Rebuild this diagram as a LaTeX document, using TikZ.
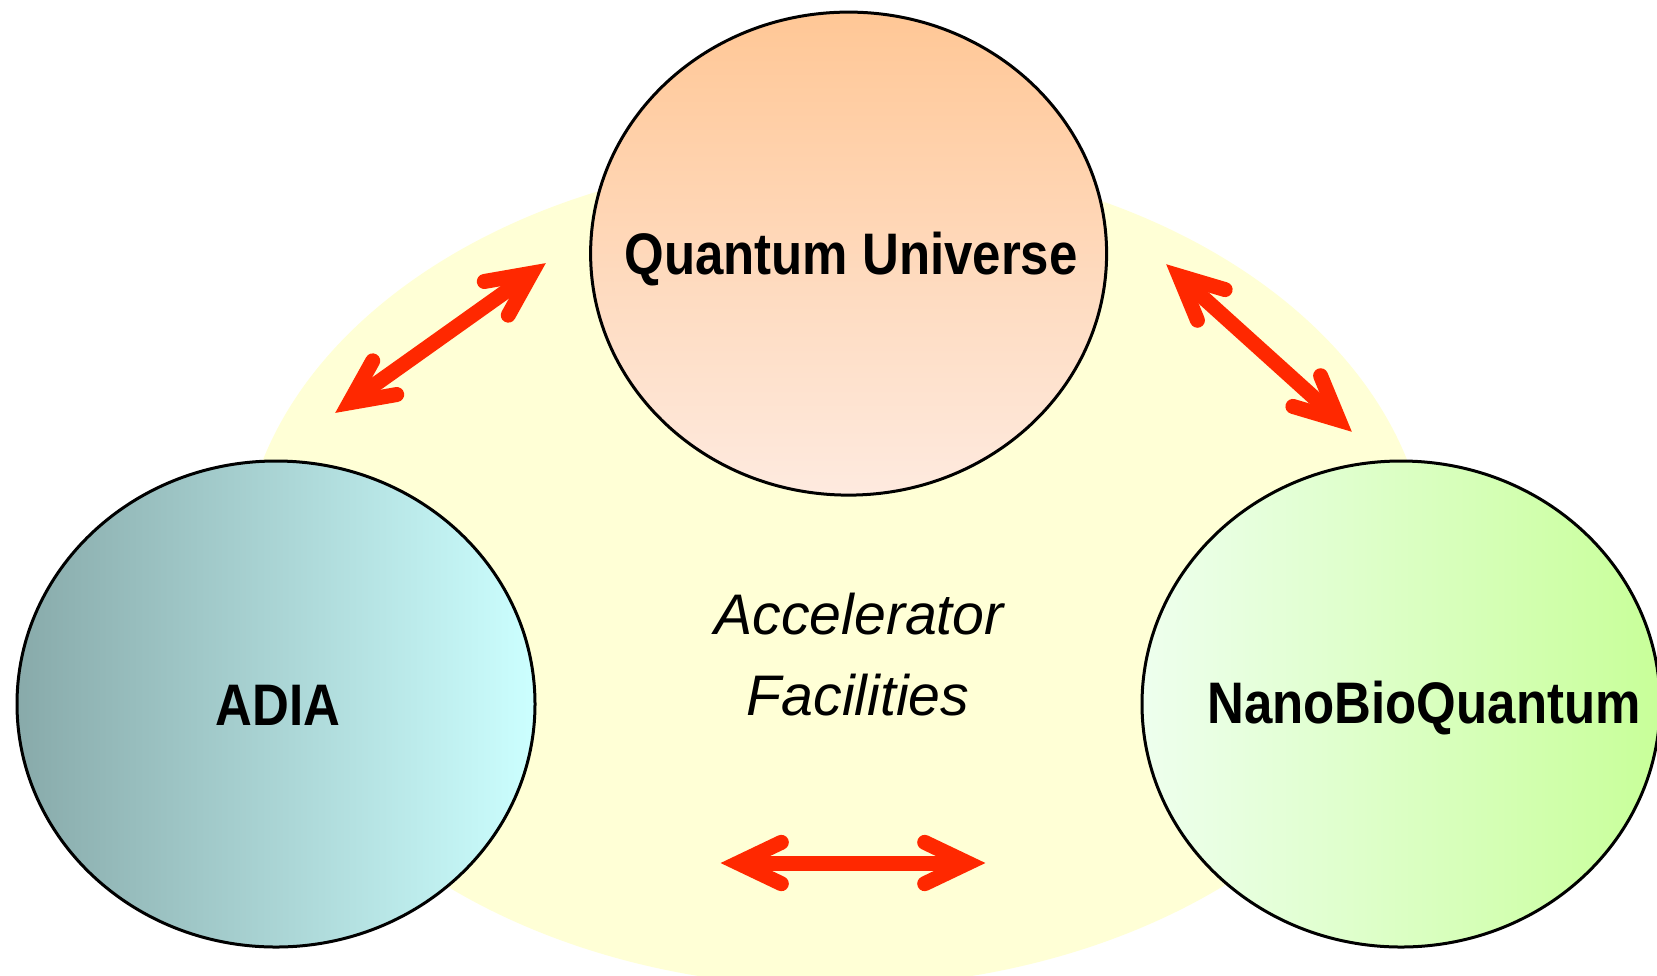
\documentclass[tikz,border=0pt]{standalone}
\usepackage{fontspec}
\usetikzlibrary{shapes.geometric,calc}
\newfontfamily\lblfont[FakeStretch=0.87]{Liberation Sans}
\newfontfamily\accfont{Liberation Sans}
\definecolor{bgyellow}{HTML}{FFFFD6}
\definecolor{arrred}{HTML}{FF2800}
\definecolor{quTop}{HTML}{FFC796}
\definecolor{quBot}{HTML}{FEEADF}
\definecolor{adL}{HTML}{88AAAA}
\definecolor{adR}{HTML}{CCFFFF}
\definecolor{nbL}{HTML}{EEFFEE}
\definecolor{nbR}{HTML}{C8FF99}
\tikzset{
  bubble/.style={ellipse, draw=black, line width=1.5pt, inner sep=0pt,
    minimum width=259pt, minimum height=243pt},
  lbltext/.style={inner sep=0pt, font=\lblfont\bfseries\fontsize{29.3pt}{35pt}\selectfont},
  acctext/.style={inner sep=0pt, font=\accfont\itshape\fontsize{28.6pt}{34pt}\selectfont},
  redshaft/.style={draw=arrred, line width=7.5pt, line cap=butt},
  redhead/.style={draw=arrred, line width=7.5pt, line cap=round, line join=miter, miter limit=10},
}
\newcommand\myDblArrow[2]{%
  \draw[redshaft] (#1) -- (#2);
  \draw[redhead] ($(#1)!24pt!25.5:(#2)$) -- (#1) -- ($(#1)!24pt!-25.5:(#2)$);
  \draw[redhead] ($(#2)!24pt!25.5:(#1)$) -- (#2) -- ($(#2)!24pt!-25.5:(#1)$);
}
\begin{document}
\begin{tikzpicture}[x=0.5pt,y=-0.5pt]
\useasboundingbox (0,0) rectangle (1657,975);
\fill[white] (0,0) rectangle (1657,975);
\node[ellipse, fill=bgyellow, inner sep=0pt, minimum width=594pt, minimum height=415pt] (accbg) at (835,572) {};
\node[bubble, minimum width=258pt, minimum height=241.5pt, top color=quTop, bottom color=quBot] (qu) at (848.6,253.6) {};
\node[bubble, left color=adL, right color=adR] (adia) at (276,704) {};
\node[bubble, left color=nbL, right color=nbR] (nbq) at (1401,704) {};
\coordinate (hl) at (738,863);
\coordinate (hr) at (968,863);
\coordinate (tla) at (349.4,402.8);
\coordinate (tlb) at (531.6,273.2);
\coordinate (tra) at (1179.1,275.9);
\coordinate (trb) at (1338.9,420.1);
\myDblArrow{hl}{hr}
\myDblArrow{tla}{tlb}
\myDblArrow{tra}{trb}
\node[lbltext, anchor=base] (qut) at (851,274) {Quantum Universe};
\node[lbltext, anchor=base] (adiat) at (278,725) {ADIA};
\node[lbltext, anchor=base] (nbqt) at (1424,723) {NanoBioQuantum};
\node[acctext, anchor=base] (acc1) at (859,634) {Accelerator};
\node[acctext, anchor=base] (acc2) at (858,715) {Facilities};
\end{tikzpicture}
\end{document}
